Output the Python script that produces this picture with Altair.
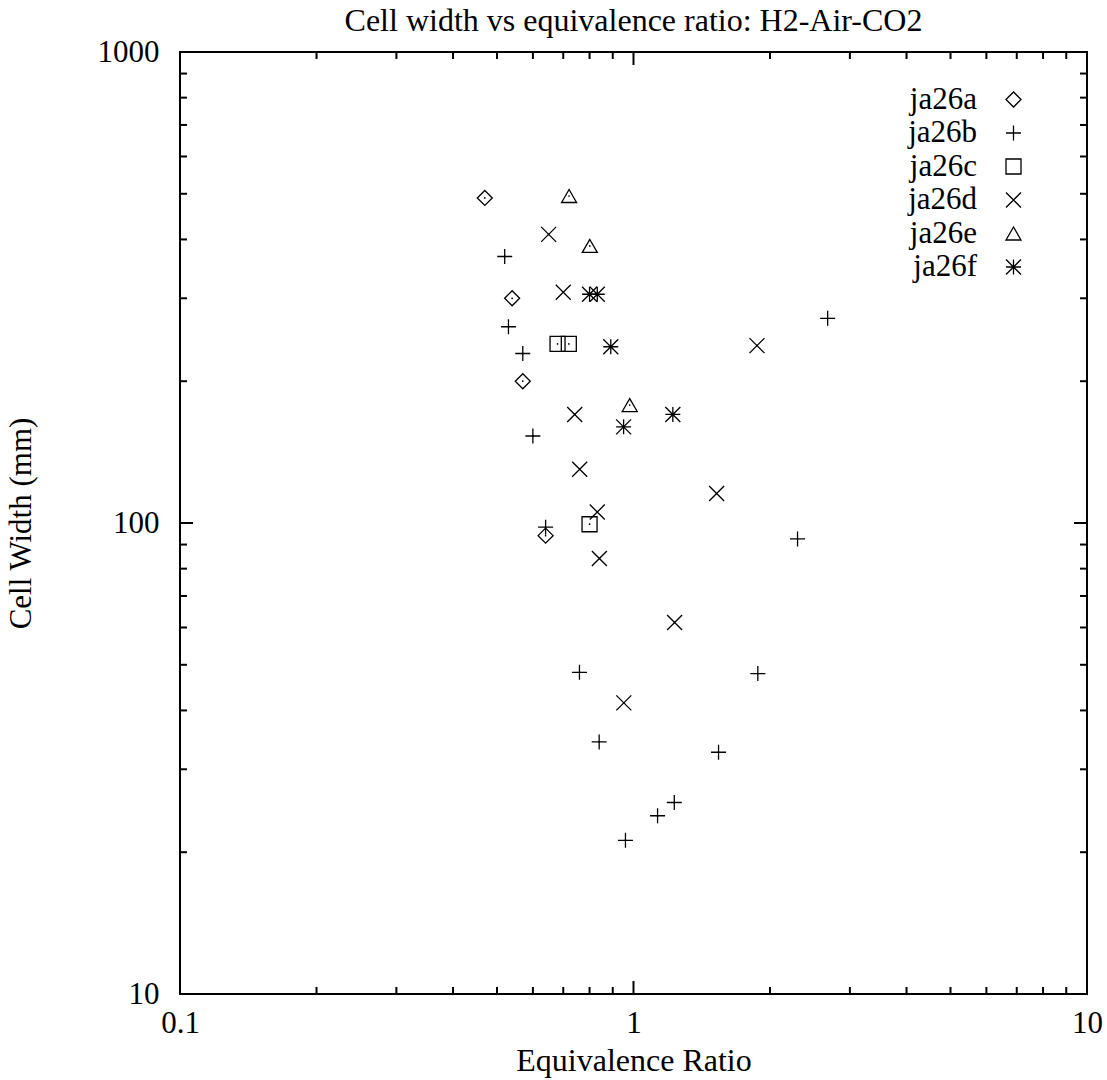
import altair as alt
import pandas as pd

# ---- data ----
series_names = ["ja26a", "ja26b", "ja26c", "ja26d", "ja26e", "ja26f"]

ja26a_x = [0.47, 0.54, 0.57, 0.64]
ja26a_y = [490, 300, 200, 94]

ja26b_x = [0.52, 0.53, 0.57, 0.60, 0.64, 0.76, 0.84, 0.96, 1.13, 1.23, 1.54, 1.88, 2.30, 2.68]
ja26b_y = [368, 261, 229, 153, 98, 48.2, 34.3, 21.2, 23.9, 25.5, 32.6, 47.9, 92.5, 272]

ja26c_x = [0.68, 0.72, 0.80]
ja26c_y = [240, 240, 99.4]

ja26d_x = [0.65, 0.70, 0.742, 0.761, 0.832, 0.841, 0.952, 1.232, 1.525, 1.872]
ja26d_y = [410, 309, 170, 130, 105.5, 84.1, 41.5, 61.5, 115.5, 238]

ja26e_x = [0.721, 0.801, 0.981]
ja26e_y = [494.6, 387.5, 178]

ja26f_x = [0.80, 0.832, 0.891, 0.951, 1.221]
ja26f_y = [306, 306, 236.7, 160, 170]

x_major = [0.1, 1, 10]
x_minor = [0.2, 0.3, 0.4, 0.5, 0.6, 0.7, 0.8, 0.9, 2, 3, 4, 5, 6, 7, 8, 9]
y_major = [10, 100, 1000]
y_minor = [20, 30, 40, 50, 60, 70, 80, 90, 200, 300, 400, 500, 600, 700, 800, 900]

rows = []
for name, xs, ys in [
    ("ja26a", ja26a_x, ja26a_y), ("ja26b", ja26b_x, ja26b_y),
    ("ja26c", ja26c_x, ja26c_y), ("ja26d", ja26d_x, ja26d_y),
    ("ja26e", ja26e_x, ja26e_y), ("ja26f", ja26f_x, ja26f_y)]:
    for a, b in zip(xs, ys):
        rows.append({"phi": a, "cw": b, "series": name})
df = pd.DataFrame(rows)

W, H = 907, 942
FONT = "Liberation Serif"
FS = 31
MAJ, MIN = 13, 7

shapes = [
    "diamond",
    "M-1,0L1,0M0,-1L0,1",
    "square",
    "M-1,-1L1,1M-1,1L1,-1",
    "triangle-up",
    "M-1,0L1,0M0,-1L0,1M-1,-1L1,1M-1,1L1,-1",
]

xscale = alt.Scale(type="log", domain=[0.1, 10], nice=False)
yscale = alt.Scale(type="log", domain=[10, 1000], nice=False)

xaxis = alt.Axis(values=x_major, format="~g", ticks=False, tickSize=0, domain=False, grid=False,
                 labelFont=FONT, labelFontSize=FS, labelColor="black", labelPadding=14,
                 labelFlush=False, labelOverlap=False,
                 title="Equivalence Ratio", titleFont=FONT, titleFontSize=32,
                 titleFontWeight="normal", titleColor="black",
                 titleX=W / 2, titleY=76, titleBaseline="alphabetic")
yaxis = alt.Axis(values=y_major, format="~g", ticks=False, tickSize=0, domain=False, grid=False,
                 labelFont=FONT, labelFontSize=FS, labelColor="black", labelPadding=21,
                 labelFlush=False, labelOverlap=False,
                 title="Cell Width (mm)", titleFont=FONT, titleFontSize=FS,
                 titleFontWeight="normal", titleColor="black",
                 titleX=-159, titleY=H / 2, titleBaseline="middle", titleAngle=-90)

X = lambda f: alt.X(f, type="quantitative", scale=xscale, axis=xaxis)
Y = lambda f: alt.Y(f, type="quantitative", scale=yscale, axis=yaxis)

points = alt.Chart(df).mark_point(filled=False, color="black", strokeWidth=1.3, size=225, opacity=1).encode(
    x=X("phi"),
    y=Y("cw"),
    shape=alt.Shape("series:N", scale=alt.Scale(domain=series_names, range=shapes),
                    legend=alt.Legend(title=None, orient="none", legendX=818, legendY=32,
                                      direction="vertical", labelFont=FONT, labelFontSize=31,
                                      labelColor="black", labelAlign="right",
                                      labelOffset={"expr": "-52"},
                                      symbolSize=225, symbolStrokeColor="black",
                                      symbolFillColor="transparent", symbolStrokeWidth=1.3,
                                      rowPadding=1.5, padding=0, labelLimit=300)),
)

dots = alt.Chart(df).mark_point(filled=True, color="black", size=3, opacity=1).encode(
    x=X("phi"), y=Y("cw"))


def xticks(vals, length):
    d = pd.DataFrame({"phi": vals})
    base = alt.Chart(d).mark_rule(color="black", strokeWidth=2)
    bottom = base.encode(x=X("phi"), y=alt.value(H), y2=alt.value(H - length))
    top = base.encode(x=X("phi"), y=alt.value(0), y2=alt.value(length))
    return [bottom, top]


def yticks(vals, length):
    d = pd.DataFrame({"cw": vals})
    base = alt.Chart(d).mark_rule(color="black", strokeWidth=2)
    left = base.encode(y=Y("cw"), x=alt.value(0), x2=alt.value(length))
    right = base.encode(y=Y("cw"), x=alt.value(W), x2=alt.value(W - length))
    return [left, right]


layers = [points, dots] + xticks(x_major, MAJ) + xticks(x_minor, MIN) + yticks(y_major, MAJ) + yticks(y_minor, MIN)

chart = alt.layer(*layers).properties(
    width=W, height=H,
    background="white",
    title=alt.TitleParams("Cell width vs equivalence ratio: H2-Air-CO2", font=FONT, fontSize=32,
                          fontWeight="normal", color="black", anchor="middle", offset=-2),
    autosize=alt.AutoSizeParams(type="none"),
    padding={"left": 180, "top": 52, "right": 20, "bottom": 86},
).configure_view(stroke="black", strokeWidth=2)

chart.save("out.html", embed_options={"renderer": "svg", "actions": False})
